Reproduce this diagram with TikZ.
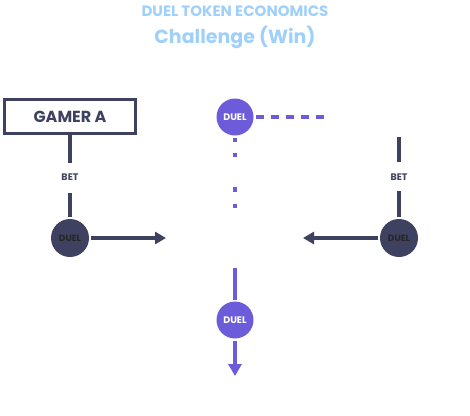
\documentclass[tikz,border=0pt]{standalone}
\usepackage{fontspec}
\setmainfont{Poppins}
\usetikzlibrary{arrows.meta}

\definecolor{navy}{HTML}{3F4160}
\definecolor{duelpurple}{HTML}{6C5CD9}
\definecolor{titleblue}{HTML}{9FD0FB}

\begin{document}
\begin{tikzpicture}[x=1pt, y=-1pt]
    \useasboundingbox (0, 0) rectangle (470, 415);
    % titles
    \node[text=titleblue, font=\bfseries\fontsize{15}{17}\selectfont] (title) at (235, 11) {DUEL TOKEN ECONOMICS};
    \node[text=titleblue, font=\bfseries\fontsize{19}{22}\selectfont] (subtitle) at (235, 37) {Challenge (Win)};
    \begin{scope}[line width=3.5pt, every node/.style = {inner sep=0pt}]
      \node[draw=navy, minimum width=131pt, minimum height=34pt, text=navy,
            font=\bfseries\fontsize{16}{18}\selectfont] (gamerA) at (70, 116.5) {GAMER A};
      \node[text=navy, font=\bfseries\fontsize{9.5}{11}\selectfont] (betA) at (70, 177) {BET};
      \node[text=navy, font=\bfseries\fontsize{9.5}{11}\selectfont] (betB) at (399, 177) {BET};
      \node[circle, fill=navy, minimum size=38pt, text=black!85,
            font=\bfseries\fontsize{9}{10}\selectfont] (duelA) at (70, 238) {DUEL};
      \node[circle, fill=navy, minimum size=38pt, text=black!85,
            font=\bfseries\fontsize{9}{10}\selectfont] (duelB) at (399, 238) {DUEL};
      \coordinate (topB) at (399, 137);
      \coordinate (endA) at (166, 238);
      \coordinate (endB) at (303, 238);
      \draw[navy] (gamerA.south) -- ([yshift=14pt]betA.center);
      \draw[navy] ([yshift=-16pt]betA.center) -- (duelA.north);
      \draw[navy] (topB) -- ([yshift=15pt]betB.center);
      \draw[navy] ([yshift=-14pt]betB.center) -- (duelB.north);
      \draw[navy, -{Triangle[length=11pt, width=12pt]}] (duelA.east) -- (endA);
      \draw[navy, -{Triangle[length=11pt, width=12pt]}] (duelB.west) -- (endB);
    \end{scope}
    \begin{scope}[line width=4pt, duelpurple, every node/.style = {circle, fill=duelpurple, minimum size=37pt, inner sep=0pt, text=white, font=\bfseries\fontsize{9.5}{11}\selectfont}]
      \node (duelTop) at (235, 117) {DUEL};
      \node (duelWin) at (235, 320) {DUEL};
      \coordinate (dashEnd) at (329, 117);
      \coordinate (dotMid) at (235, 157);
      \coordinate (dotLow) at (235, 187);
      \coordinate (dotEnd) at (235, 208);
      \coordinate (winTop) at (235, 268);
      \coordinate (winEnd) at (235, 376);
      \draw[dash pattern=on 8pt off 7pt] (duelTop.east) -- (dashEnd);
      \draw[dash pattern=on 4pt off 11pt] (duelTop.south) -- (dotMid);
      \draw[dash pattern=on 5pt off 12pt] (dotLow) -- (dotEnd);
      \draw (winTop) -- (duelWin.north);
      \draw[-{Triangle[length=12pt, width=13pt]}] (duelWin.south) -- (winEnd);
    \end{scope}
  \end{tikzpicture}
\end{document}
